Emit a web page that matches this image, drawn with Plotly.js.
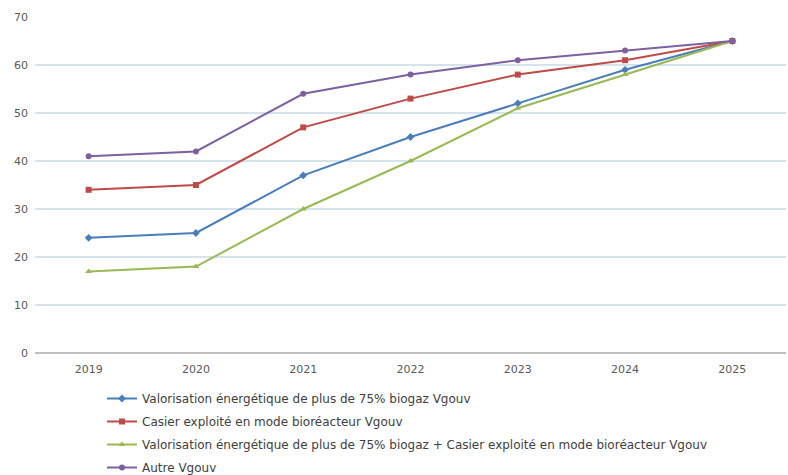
<!DOCTYPE html>
<html><head><meta charset="utf-8">
<script src="https://cdn.plot.ly/plotly-3.0.1.min.js"></script>
<style>html,body{margin:0;padding:0;background:#fff}#chart{width:788px;height:475px}</style>
</head><body><div id="chart"></div>
<script>
const years = ['2019','2020','2021','2022','2023','2024','2025'];
const seriesNames = [
  'Valorisation énergétique de plus de 75% biogaz Vgouv',
  'Casier exploité en mode bioréacteur Vgouv',
  'Valorisation énergétique de plus de 75% biogaz + Casier exploité en mode bioréacteur Vgouv',
  'Autre Vgouv'
];
const blueVals = [24, 25, 37, 45, 52, 59, 65];
const redVals = [34, 35, 47, 53, 58, 61, 65];
const greenVals = [17, 18, 30, 40, 51, 58, 65];
const purpleVals = [41, 42, 54, 58, 61, 63, 65];
const colors = ['#4a7ebb', '#be4b48', '#98b954', '#7d60a0'];
const symbols = ['diamond', 'square', 'triangle-up', 'circle'];
const allVals = [blueVals, redVals, greenVals, purpleVals];

const traces = allVals.map((v, i) => ({
  type: 'scatter', mode: 'lines+markers', x: years, y: v, name: seriesNames[i],
  legendgroup: 'g' + i,
  line: {color: colors[i], width: 2},
  marker: {color: colors[i], symbol: symbols[i], size: 6}
}));

const layout = {
  width: 788, height: 475,
  margin: {l: 35, r: 2, t: 17, b: 122, autoexpand: false},
  paper_bgcolor: '#fff', plot_bgcolor: '#fff',
  font: {family: 'DejaVu Sans, Verdana, sans-serif', size: 11, color: '#595959'},
  xaxis: {type: 'category', showgrid: false, zeroline: false, showline: false, ticks: '',
          tickangle: 0, ticklabelstandoff: 8, tickfont: {size: 11, color: '#595959'}, range: [-0.5, 6.5]},
  yaxis: {range: [0, 70], dtick: 10, showgrid: true, gridcolor: '#d4e3ec', gridwidth: 2,
          zeroline: true, zerolinecolor: '#bfbfbf', zerolinewidth: 1.5, showline: false, ticks: '',
          ticklabelstandoff: 6, tickfont: {size: 11, color: '#595959'}},
  showlegend: true,
  legend: {orientation: 'v', xref: 'container', yref: 'container', x: 102/788, y: 1 - 384/475,
           xanchor: 'left', yanchor: 'top', traceorder: 'grouped', tracegroupgap: 4,
           font: {size: 12, color: '#404040'}, bgcolor: 'rgba(0,0,0,0)'}
};
Plotly.newPlot('chart', traces, layout, {displayModeBar: false, staticPlot: true});
</script></body></html>
